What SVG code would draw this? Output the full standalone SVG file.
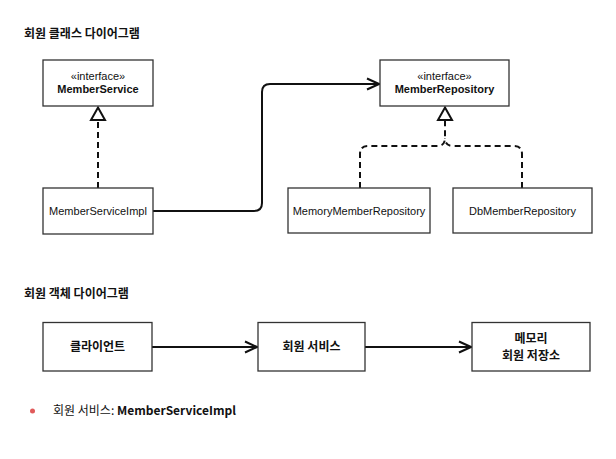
<svg xmlns="http://www.w3.org/2000/svg" width="616" height="459" viewBox="0 0 616 459">
<defs>
<style>
.box{fill:#fff;stroke:#333;stroke-width:1.3}
.t{font-family:"Liberation Sans",Arial,sans-serif;font-size:11px;fill:#111;text-anchor:middle}
.b{font-weight:bold}
.k{font-family:"Noto Sans CJK KR",sans-serif;font-size:12px;font-weight:bold;fill:#111}
.kc{text-anchor:middle}
.line{fill:none;stroke:#111;stroke-width:2}
.dash{fill:none;stroke:#111;stroke-width:2;stroke-dasharray:6 4}
</style>
<marker id="open" viewBox="0 0 14 14" refX="13" refY="7" markerWidth="14" markerHeight="14" markerUnits="userSpaceOnUse" orient="auto">
<path d="M1,1.5 L13,7 L1,12.5" fill="none" stroke="#111" stroke-width="2"/>
</marker>
</defs>
<rect width="616" height="459" fill="#fff"/>
<text class="k" x="24" y="38">회원 클래스 다이어그램</text>
<g id="connectors">
<path class="dash" d="M98,188 V121"/>
<path d="M98,107.5 L105,120 L91,120 Z" fill="#fff" stroke="#111" stroke-width="2"/>
<path class="line" d="M153,211 H254 Q262,211 262,203 V92 Q262,84 270,84 H379" marker-end="url(#open)"/>
<path class="dash" d="M360,188 V154 Q360,146 368,146 H437 Q445,146 445,138 V121"/>
<path class="dash" d="M522,188 V154 Q522,146 514,146 H453 Q445,146 445,138"/>
<path d="M445,107.5 L452,120 L438,120 Z" fill="#fff" stroke="#111" stroke-width="2"/>
<path class="line" d="M152,347 H257" marker-end="url(#open)"/>
<path class="line" d="M365,347 H471" marker-end="url(#open)"/>
</g>
<g id="MemberService">
<rect class="box" x="43" y="60" width="110" height="46"/>
<text class="t" x="98" y="80">«interface»</text>
<text class="t b" x="98" y="93">MemberService</text>
</g>
<g id="MemberRepository">
<rect class="box" x="380" y="60" width="129" height="46"/>
<text class="t" x="444.5" y="80">«interface»</text>
<text class="t b" x="444.5" y="93">MemberRepository</text>
</g>
<g id="MemberServiceImpl">
<rect class="box" x="43" y="188" width="110" height="46"/>
<text class="t" x="98" y="215">MemberServiceImpl</text>
</g>
<g id="MemoryMemberRepository">
<rect class="box" x="288" y="188" width="142" height="45"/>
<text class="t" x="359" y="215">MemoryMemberRepository</text>
</g>
<g id="DbMemberRepository">
<rect class="box" x="453" y="188" width="139" height="45"/>
<text class="t" x="522.5" y="215">DbMemberRepository</text>
</g>
<text class="k" x="24" y="298">회원 객체 다이어그램</text>
<g id="Client">
<rect class="box" x="43" y="322.5" width="109" height="48.5"/>
<text class="k kc" x="97.5" y="351">클라이언트</text>
</g>
<g id="MemberServiceObj">
<rect class="box" x="258" y="322.5" width="107" height="48.5"/>
<text class="k kc" x="311.5" y="351">회원 서비스</text>
</g>
<g id="MemoryRepoObj">
<rect class="box" x="472" y="322.5" width="118" height="48.5"/>
<text class="k kc" x="531" y="343">메모리</text>
<text class="k kc" x="531" y="360">회원 저장소</text>
</g>
<circle cx="32.5" cy="411" r="2.5" fill="#e05a5a"/>
<text x="53" y="415" style="font-family:'Noto Sans CJK KR',sans-serif;font-size:12px;fill:#111">회원 서비스: <tspan font-weight="bold">MemberServiceImpl</tspan></text>
</svg>
